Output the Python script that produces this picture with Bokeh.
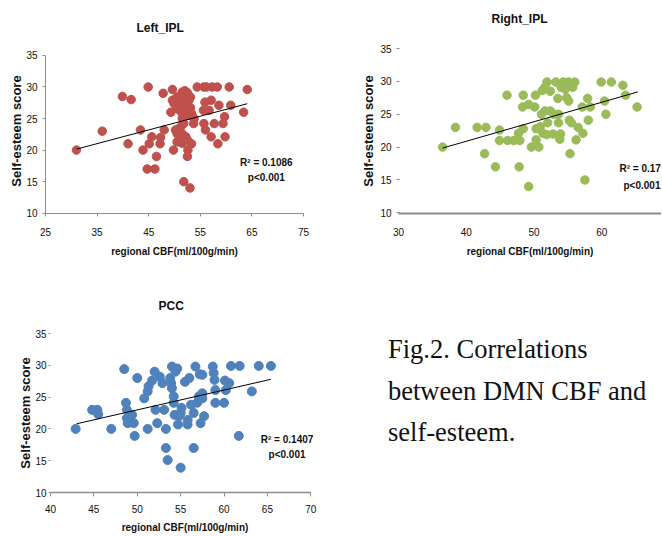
from bokeh.plotting import figure
from bokeh.layouts import row, column
from bokeh.models import Label, FixedTicker, Title, Div
from bokeh.embed import file_html
from bokeh.resources import INLINE

# ---------------- data ----------------
left_cbf = [31.0, 36.0, 39.9, 41.6, 41.0, 43.4, 43.9, 44.9, 44.7, 45.6, 45.1, 46.2, 46.5, 47.2, 47.3,
            47.8, 48.0, 49.6, 49.8, 49.3, 50.2, 51.8, 53.0, 52.5, 52.6, 53.3, 54.4, 53.5, 53.7, 55.7,
            56.2, 57.3, 58.3, 55.9, 55.6, 55.7, 56.0, 56.7, 57.1, 57.1, 57.7, 58.4, 58.6, 59.4, 59.7,
            59.8, 60.6, 60.9, 63.4, 64.1,
            49.6, 49.9, 50.5, 51.2, 51.5, 52.0, 52.5, 53.1, 52.8, 51.5, 51.8, 50.5, 51.2, 52.2, 52.5,
            51.5, 51.8, 51.2, 50.2, 50.5, 51.5, 52.2, 51.2, 50.5, 51.5, 52.5, 53.1, 53.3, 53.8]
left_ses = [20.0, 23.0, 28.5, 28.0, 21.0, 23.2, 20.0, 30.0, 17.0, 22.1, 21.0, 17.0, 19.0, 21.0, 22.0,
            29.0, 23.2, 29.6, 20.0, 26.0, 27.6, 15.0, 14.0, 19.0, 20.0, 21.0, 30.0, 25.3, 24.2, 30.0,
            30.0, 30.0, 30.0, 27.6, 26.3, 24.2, 23.2, 26.3, 27.9, 22.1, 24.2, 21.0, 27.1, 24.2, 25.3,
            22.1, 30.0, 27.1, 26.0, 29.6,
            27.9, 27.4, 28.4, 28.7, 29.2, 29.4, 29.1, 28.4, 27.9, 27.9, 27.4, 26.6, 26.1, 26.1, 25.5,
            25.0, 24.2, 23.7, 23.2, 22.6, 22.6, 22.1, 21.8, 21.3, 21.1, 21.6, 26.7, 25.8, 25.0]
left_trend_x = [31.0, 64.1]
left_trend_y = [20.15, 27.35]

right_cbf = [36.5, 38.4, 41.6, 42.9, 42.7, 44.3, 44.9, 44.9, 46.1, 46.0, 47.0, 47.7, 47.9, 47.8, 48.4,
             48.4, 48.3, 49.2, 49.2, 49.6, 50.1, 50.2, 50.3, 50.3, 50.7, 50.9, 51.1, 51.2, 51.6, 51.9,
             51.3, 51.9, 52.0, 52.4, 52.8, 53.2, 52.9, 53.5, 53.6, 53.6, 53.8, 53.9, 54.0, 54.3, 54.6,
             54.8, 55.1, 55.1, 55.2, 55.3, 55.5, 55.7, 56.0, 56.2, 56.5, 57.1, 57.2, 57.5, 57.9, 58.0,
             58.3, 59.9, 60.4, 60.6, 61.4, 63.1, 63.5, 65.2, 51.6, 52.4]
right_ses = [20.0, 23.0, 23.0, 23.0, 19.0, 17.0, 22.6, 21.0, 21.0, 27.9, 21.0, 22.1, 21.0, 17.0, 22.8,
             27.9, 26.1, 26.5, 14.0, 20.0, 26.1, 27.9, 22.8, 21.1, 20.0, 23.1, 25.0, 28.6, 29.1, 29.9,
             22.1, 21.9, 23.7, 28.5, 22.0, 29.9, 25.0, 27.4, 25.0, 23.7, 21.2, 22.0, 29.1, 29.9, 28.8,
             27.5, 29.9, 27.0, 24.1, 19.0, 23.7, 29.1, 29.9, 21.1, 23.0, 26.1, 22.1, 15.0, 27.4, 24.1,
             26.1, 29.9, 27.0, 25.0, 29.9, 29.4, 27.9, 26.1, 25.5, 25.5]
right_trend_x = [36.5, 65.3]
right_trend_y = [19.85, 28.4]

pcc_cbf = [42.9, 44.8, 45.4, 45.5, 47.0, 48.5, 48.7, 48.8, 48.8, 48.9, 49.4, 49.6, 49.7, 50.0, 50.8,
           51.2, 51.3, 51.2, 51.7, 52.0, 52.1, 52.3, 52.6, 52.9, 53.1, 53.3, 53.3, 53.5, 53.8, 53.9,
           54.0, 54.0, 54.2, 54.2, 54.3, 54.4, 54.6, 54.7, 54.8, 55.0, 55.1, 55.5, 55.8, 56.0, 56.5,
           56.5, 56.7, 56.9, 57.1, 57.2, 57.3, 57.5, 57.5, 57.7, 58.7, 58.8, 58.9, 59.0, 59.0, 60.0,
           60.1, 60.2, 60.6, 60.8, 61.7, 61.8, 63.2, 64.0, 65.4, 55.8, 56.2, 55.0, 57.5]
pcc_ses = [20.0, 23.0, 23.0, 22.3, 20.0, 29.4, 24.1, 23.0, 21.7, 20.9, 22.2, 20.9, 18.9, 28.0, 24.8,
           25.9, 26.7, 20.0, 27.6, 29.0, 23.0, 20.9, 28.2, 27.2, 23.0, 20.0, 17.0, 15.1, 28.0, 27.2,
           26.4, 29.8, 25.1, 24.1, 22.2, 29.0, 29.5, 20.7, 22.0, 13.9, 23.3, 27.4, 20.7, 28.0, 17.0,
           22.5, 29.8, 24.1, 25.1, 28.6, 20.9, 28.5, 24.8, 22.0, 29.8, 28.8, 27.7, 26.1, 24.1, 24.1,
           27.6, 26.1, 27.2, 29.9, 18.9, 29.9, 25.9, 29.9, 29.9, 21.4, 23.8, 22.5, 25.6]
pcc_trend_x = [43.0, 65.4]
pcc_trend_y = [20.8, 27.8]

y_ticks = [10, 15, 20, 25, 30, 35]
left_x_ticks = [25, 35, 45, 55, 65, 75]
right_x_ticks = [30, 40, 50, 60, 70]
pcc_x_ticks = [40, 45, 50, 55, 60, 65, 70]

titles = ["Left_IPL", "Right_IPL", "PCC"]
stats = [("R\u00b2 = 0.1086", "p<0.001"), ("R\u00b2 = 0.17", "p<0.001"), ("R\u00b2 = 0.1407", "p<0.001")]
x_label = "regional CBF(ml/100g/min)"
y_label = "Self-esteem score"
caption = ["Fig.2. Correlations", "between DMN CBF and", "self-esteem."]

SANS = "'Liberation Sans', Arial, sans-serif"
AXIS_GRAY = "#8c8c8c"
INK = "#111111"


def style_title(t, offset, standoff):
    t.align = "left"
    t.offset = offset
    t.standoff = standoff
    t.text_font = SANS
    t.text_font_size = "12px"
    t.text_font_style = "bold"
    t.text_color = INK


def make_panel(xs, ys, tx, ty, color, xr, yr, xticks, width, height, borders, dot, title=None):
    bl, br, bt, bb = borders
    p = figure(width=width, height=height, x_range=xr, y_range=yr, title=title,
               toolbar_location=None, output_backend="svg",
               min_border_left=bl, min_border_right=br, min_border_top=bt, min_border_bottom=bb)
    p.outline_line_color = None
    p.grid.visible = False
    p.xaxis.ticker = FixedTicker(ticks=xticks)
    p.yaxis.ticker = FixedTicker(ticks=y_ticks)
    for ax in (p.xaxis[0], p.yaxis[0]):
        ax.major_label_text_font = SANS
        ax.major_label_text_font_size = "10px"
        ax.major_label_text_color = INK
        ax.axis_label_text_font = SANS
        ax.axis_label_text_font_style = "bold"
        ax.axis_label_text_color = INK
        ax.minor_tick_line_color = None
        ax.major_tick_line_color = AXIS_GRAY
        ax.axis_line_color = AXIS_GRAY
    p.xaxis.axis_label = x_label
    p.yaxis.axis_label = y_label
    p.xaxis.axis_label_text_font_size = "10px"
    p.yaxis.axis_label_text_font_size = "13px"

    p.scatter(xs, ys, size=dot, color=color, line_color=color)
    p.line(tx, ty, line_color="black", line_width=1)
    return p


def add_stats(p, stat, pos, aligns):
    sx1, sy1, sx2, sy2 = pos
    for txt, xx, yy, al in ((stat[0], sx1, sy1, aligns[0]), (stat[1], sx2, sy2, aligns[1])):
        p.add_layout(Label(x=xx, y=yy, text=txt, text_font=SANS, text_font_size="10px",
                           text_font_style="bold", text_align=al, text_baseline="middle",
                           text_color=INK))


# ---------------- Left_IPL ----------------
p1 = make_panel(left_cbf, left_ses, left_trend_x, left_trend_y, "#C0504D",
                (25, 75), (9.95, 36.1), left_x_ticks, 340, 262, (45, 37, 48, 49), 8.5,
                title=titles[0])
style_title(p1.title, 91, 27)
p1.yaxis.bounds = (10, 35)
p1.xaxis.major_tick_out = 3
p1.xaxis.major_tick_in = 0
p1.yaxis.major_tick_out = 3
p1.yaxis.major_tick_in = 0
p1.xaxis.major_label_standoff = 11
p1.xaxis.axis_label_standoff = 7
p1.yaxis.major_label_standoff = 5
p1.yaxis.axis_label_standoff = -1
add_stats(p1, stats[0], (67.8, 18.0, 67.8, 15.65), ("center", "center"))

# ---------------- Right_IPL ----------------
p2 = make_panel(right_cbf, right_ses, right_trend_x, right_trend_y, "#9BBB59",
                (30, 68.8), (9.9, 35), right_x_ticks, 321, 262, (58, 0, 48, 49), 8.5)
p2.add_layout(Title(text=" ", text_font_size="1px", standoff=19), "above")
t2 = Title(text=titles[1])
style_title(t2, 93, 2)
p2.add_layout(t2, "above")
p2.xaxis.axis_line_width = 2
p2.xaxis.major_tick_line_color = None
p2.xaxis.major_tick_out = 0
p2.xaxis.major_tick_in = 0
p2.yaxis.axis_line_color = None
p2.yaxis.major_tick_out = 2
p2.yaxis.major_tick_in = 1
p2.xaxis.major_label_standoff = 14
p2.xaxis.axis_label_standoff = 7
p2.yaxis.major_label_standoff = 5
p2.yaxis.axis_label_standoff = 1
add_stats(p2, stats[1], (62.6, 16.75, 68.65, 14.15), ("left", "right"))

# ---------------- PCC ----------------
p3 = make_panel(pcc_cbf, pcc_ses, pcc_trend_x, pcc_trend_y, "#4F81BD",
                (40, 71), (10, 35), pcc_x_ticks, 340, 273, (50, 21, 71, 42), 9,
                title=titles[2])
style_title(p3.title, 108, 42)
p3.xaxis.bounds = (40, 70)
p3.xaxis.axis_line_width = 1.5
p3.xaxis.major_tick_out = 4
p3.xaxis.major_tick_in = 0
p3.yaxis.axis_line_color = None
p3.yaxis.major_tick_out = 2
p3.yaxis.major_tick_in = 0
p3.xaxis.major_label_standoff = 8
p3.xaxis.axis_label_standoff = 6
p3.yaxis.major_label_standoff = 2
p3.yaxis.axis_label_standoff = -1
add_stats(p3, stats[2], (67.26, 18.33, 67.26, 15.98), ("center", "center"))

# ---------------- caption ----------------
cap_html = ('<div style="padding:67px 0 0 48px; font-family:\'Liberation Serif\',\'Times New Roman\',serif; '
            'font-size:26.5px; line-height:41.5px; color:#111111; white-space:nowrap;">'
            + "<br>".join(caption) + "</div>")
cap = Div(text=cap_html, width=321, height=273, margin=(0, 0, 0, 0))

layout = column(row(p1, p2), row(p3, cap))
open("out.html", "w").write(file_html(layout, INLINE))
